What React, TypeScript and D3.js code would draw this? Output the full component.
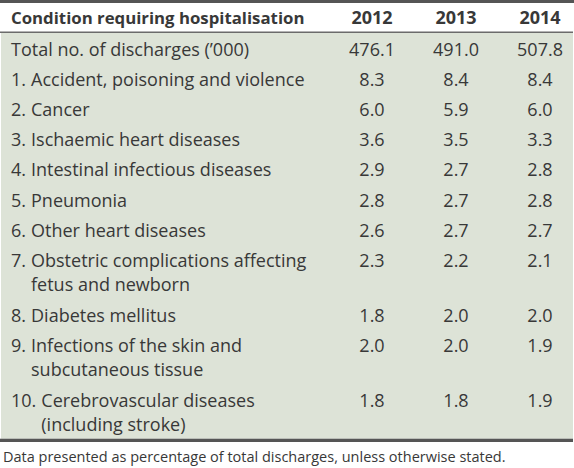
import React, { useEffect, useRef } from "react";
import * as d3 from "d3";

const years = ["2012", "2013", "2014"];
const headerLabel = "Condition requiring hospitalisation";
const rowNumbers = ["", "1.", "2.", "3.", "4.", "5.", "6.", "7.", "8.", "9.", "10."];
const conditions: string[][] = [
  ["Total no. of discharges (\u2019000)"],
  ["Accident, poisoning and violence"],
  ["Cancer"],
  ["Ischaemic heart diseases"],
  ["Intestinal infectious diseases"],
  ["Pneumonia"],
  ["Other heart diseases"],
  ["Obstetric complications affecting", "fetus and newborn"],
  ["Diabetes mellitus"],
  ["Infections of the skin and", "subcutaneous tissue"],
  ["Cerebrovascular diseases", "(including stroke)"],
];
const values2012 = [476.1, 8.3, 6.0, 3.6, 2.9, 2.8, 2.6, 2.3, 1.8, 2.0, 1.8];
const values2013 = [491.0, 8.4, 5.9, 3.5, 2.7, 2.7, 2.7, 2.2, 2.0, 2.0, 1.8];
const values2014 = [507.8, 8.4, 6.0, 3.3, 2.8, 2.8, 2.7, 2.1, 2.0, 1.9, 1.9];
const footnote = "Data presented as percentage of total discharges, unless otherwise stated.";

const W = 574;
const H = 468;
const FONT = "'Open Sans', 'Noto Sans', sans-serif";
const TEXT = "#383838";
const BORDER = "#555555";
const GREEN = "#dde3d7";

export default function App() {
  const ref = useRef<SVGSVGElement>(null);

  useEffect(() => {
    const svg = d3.select(ref.current);
    svg.selectAll("*").remove();

    const series = [values2012, values2013, values2014];
    const x = d3.scalePoint<string>().domain(years).range([372, 540]);
    const fmt = d3.format(".1f");

    const tableLeft = 0;
    const tableRight = 573;
    const bodyTop = 33;
    const lineH = 24.5;
    const rowPad = 5.7;
    const firstBase = 22.5;

    const tops: number[] = [];
    let acc = bodyTop;
    conditions.forEach((c) => {
      tops.push(acc);
      acc += rowPad + lineH * c.length;
    });
    const bodyBottom = acc;

    svg.append("rect").attr("x", tableLeft + 1).attr("y", bodyTop).attr("width", tableRight - tableLeft - 1)
      .attr("height", bodyBottom - bodyTop).attr("fill", GREEN);
    svg.append("rect").attr("x", tableLeft).attr("y", 0).attr("width", W).attr("height", 3).attr("fill", BORDER);
    svg.append("rect").attr("x", tableLeft).attr("y", 31.5).attr("width", tableRight - tableLeft).attr("height", 1.5).attr("fill", "#6b6b6b");
    svg.append("rect").attr("x", tableLeft).attr("y", bodyBottom).attr("width", tableRight - tableLeft).attr("height", 3.3).attr("fill", BORDER);

    const hdr = svg.append("g").attr("font-family", FONT).attr("font-weight", 700).attr("fill", TEXT);
    hdr.append("text").attr("x", 11).attr("y", 24).attr("font-size", 16.8).text(headerLabel);
    hdr.selectAll("text.yr").data(years).join("text").attr("class", "yr")
      .attr("x", (d) => x(d)!).attr("y", 24).attr("text-anchor", "middle").attr("font-size", 18).text((d) => d);

    const body = svg.append("g").attr("font-family", FONT).attr("font-size", 18).attr("fill", TEXT);
    conditions.forEach((lines, i) => {
      const base = tops[i] + firstBase;
      let indent = 11;
      if (rowNumbers[i]) {
        const t = body.append("text").attr("x", 11).attr("y", base).text(rowNumbers[i]);
        const w = (t.node() as SVGTextElement).getComputedTextLength();
        indent = 11 + w + 5;
      }
      lines.forEach((ln, j) => {
        body.append("text").attr("x", indent).attr("y", base + j * lineH).text(ln);
      });
      series.forEach((vals, k) => {
        body.append("text").attr("x", x(years[k])!).attr("y", base).attr("text-anchor", "middle").text(fmt(vals[i]));
      });
    });

    svg.append("text").attr("x", 3).attr("y", bodyBottom + 23).attr("font-family", FONT).attr("font-size", 14.5)
      .attr("fill", TEXT).text(footnote);
  }, []);

  return (
    <svg ref={ref} width={W} height={H} style={{ position: "absolute", left: 0, top: 0, background: "#fff" }} />
  );
}
